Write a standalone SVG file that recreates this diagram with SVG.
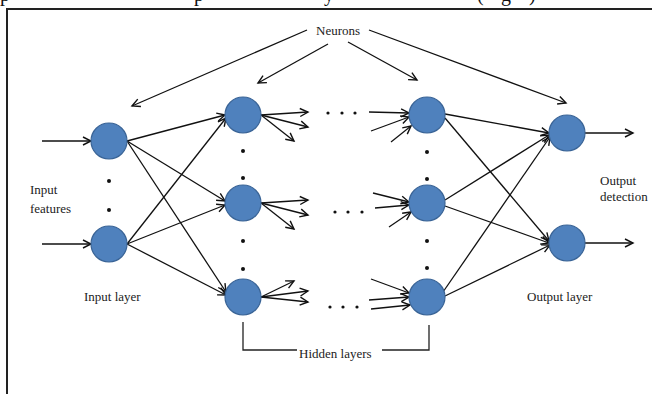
<svg xmlns="http://www.w3.org/2000/svg" width="652" height="394" viewBox="0 0 652 394">
  <defs>
    <marker id="arrow" markerUnits="userSpaceOnUse" markerWidth="12" markerHeight="12" refX="9" refY="5" orient="auto">
      <path d="M1,1 L9,5 L1,9" fill="none" stroke="#111" stroke-width="1.4" stroke-linejoin="miter"/>
    </marker>
    <style>
      .node { fill: #4F81BD; stroke: #3A6496; stroke-width: 1.2; }
      .edge { stroke: #111; stroke-width: 1.3; fill: none; marker-end: url(#arrow); }
      .dot { fill: #111; }
      .lbl { font-family: "Liberation Serif", "Times New Roman", serif; font-size: 13px; fill: #222; }
      .frame { stroke: #222; stroke-width: 2; fill: none; }
      .bracket { stroke: #222; stroke-width: 1.3; fill: none; }
      .head { font-family: "Liberation Serif", "Times New Roman", serif; font-size: 20px; fill: #111; }
    </style>
  </defs>

  <rect width="652" height="394" fill="#fff"/>

  <!-- descenders of the caption line above the frame -->
  <g id="caption">
    <text class="head" x="0" y="1">p</text>
    <text class="head" x="194" y="1">p</text>
    <text class="head" x="324" y="1">y</text>
    <text class="head" x="477" y="1">(</text>
    <text class="head" x="501" y="1">g</text>
    <text class="head" x="529" y="1">)</text>
  </g>

  <!-- figure frame -->
  <path class="frame" d="M7,394 V9 H652"/>

  <g id="connectors">
    <!-- input features -->
    <line class="edge" x1="42" y1="141" x2="91" y2="141"/>
    <line class="edge" x1="42" y1="244" x2="91" y2="244"/>
    <!-- input layer to first hidden layer -->
    <line class="edge" x1="127" y1="141" x2="225" y2="115"/>
    <line class="edge" x1="127" y1="141" x2="225" y2="201"/>
    <line class="edge" x1="127" y1="141" x2="226" y2="292"/>
    <line class="edge" x1="127" y1="244" x2="226" y2="118"/>
    <line class="edge" x1="127" y1="244" x2="225" y2="205"/>
    <line class="edge" x1="127" y1="244" x2="226" y2="295"/>
    <!-- first hidden layer fan-out -->
    <line class="edge" x1="261" y1="115" x2="308" y2="112"/>
    <line class="edge" x1="261" y1="115" x2="308" y2="127"/>
    <line class="edge" x1="261" y1="115" x2="294" y2="141"/>
    <line class="edge" x1="261" y1="203" x2="308" y2="200"/>
    <line class="edge" x1="261" y1="203" x2="308" y2="215"/>
    <line class="edge" x1="261" y1="203" x2="294" y2="229"/>
    <line class="edge" x1="261" y1="297" x2="294" y2="281"/>
    <line class="edge" x1="261" y1="297" x2="308" y2="291"/>
    <line class="edge" x1="261" y1="297" x2="308" y2="302"/>
    <!-- last hidden layer fan-in -->
    <line class="edge" x1="369" y1="112" x2="409" y2="113"/>
    <line class="edge" x1="371" y1="131" x2="409" y2="117"/>
    <line class="edge" x1="391" y1="142" x2="411" y2="126"/>
    <line class="edge" x1="373" y1="193" x2="409" y2="202"/>
    <line class="edge" x1="375" y1="208" x2="409" y2="205"/>
    <line class="edge" x1="389" y1="227" x2="411" y2="212"/>
    <line class="edge" x1="371" y1="279" x2="409" y2="293"/>
    <line class="edge" x1="369" y1="300" x2="409" y2="297"/>
    <line class="edge" x1="371" y1="309" x2="410" y2="305"/>
    <!-- last hidden layer to output layer -->
    <line class="edge" x1="445" y1="114" x2="549" y2="133"/>
    <line class="edge" x1="445" y1="118" x2="549" y2="241"/>
    <line class="edge" x1="445" y1="200" x2="549" y2="135"/>
    <line class="edge" x1="445" y1="206" x2="549" y2="243"/>
    <line class="edge" x1="443" y1="292" x2="550" y2="137"/>
    <line class="edge" x1="445" y1="296" x2="550" y2="245"/>
    <!-- output detection -->
    <line class="edge" x1="585" y1="133" x2="633" y2="133"/>
    <line class="edge" x1="585" y1="243" x2="633" y2="243"/>
    <!-- neuron callouts -->
    <line class="edge" x1="307" y1="30" x2="132" y2="106"/>
    <line class="edge" x1="328" y1="44" x2="258" y2="83"/>
    <line class="edge" x1="348" y1="42" x2="417" y2="80"/>
    <line class="edge" x1="369" y1="30" x2="566" y2="103"/>
    <!-- hidden layers bracket -->
    <path class="bracket" d="M243,322 V350 H297"/>
    <path class="bracket" d="M382,350 H429 V325"/>
  </g>

  <g id="input-layer">
    <circle id="in1" class="node" cx="109" cy="141" r="18"/>
    <circle id="in2" class="node" cx="109" cy="244" r="18"/>
    <circle class="dot" cx="109" cy="181" r="2"/>
    <circle class="dot" cx="109" cy="210" r="2"/>
  </g>

  <g id="hidden-layer-first">
    <circle id="h1a" class="node" cx="243" cy="115" r="18"/>
    <circle id="h1b" class="node" cx="243" cy="203" r="18"/>
    <circle id="h1c" class="node" cx="243" cy="297" r="18"/>
    <circle class="dot" cx="243" cy="151" r="2"/>
    <circle class="dot" cx="243" cy="178" r="2"/>
    <circle class="dot" cx="243" cy="241" r="2"/>
    <circle class="dot" cx="243" cy="269" r="2"/>
  </g>

  <g id="hidden-ellipses">
    <circle class="dot" cx="328" cy="113" r="1.6"/>
    <circle class="dot" cx="342" cy="113" r="1.6"/>
    <circle class="dot" cx="355" cy="113" r="1.6"/>
    <circle class="dot" cx="335" cy="212" r="1.6"/>
    <circle class="dot" cx="348" cy="212" r="1.6"/>
    <circle class="dot" cx="362" cy="212" r="1.6"/>
    <circle class="dot" cx="330" cy="307" r="1.6"/>
    <circle class="dot" cx="343" cy="307" r="1.6"/>
    <circle class="dot" cx="357" cy="307" r="1.6"/>
  </g>

  <g id="hidden-layer-last">
    <circle id="h2a" class="node" cx="427" cy="115" r="18"/>
    <circle id="h2b" class="node" cx="427" cy="203" r="18"/>
    <circle id="h2c" class="node" cx="427" cy="297" r="18"/>
    <circle class="dot" cx="427" cy="152" r="2"/>
    <circle class="dot" cx="427" cy="179" r="2"/>
    <circle class="dot" cx="427" cy="241" r="2"/>
    <circle class="dot" cx="427" cy="268" r="2"/>
  </g>

  <g id="output-layer">
    <circle id="out1" class="node" cx="567" cy="133" r="18"/>
    <circle id="out2" class="node" cx="567" cy="243" r="18"/>
  </g>

  <g id="labels">
    <text class="lbl" x="316" y="35">Neurons</text>
    <text class="lbl" x="30" y="194">Input</text>
    <text class="lbl" x="30" y="213">features</text>
    <text class="lbl" x="84" y="301">Input layer</text>
    <text class="lbl" x="527" y="301">Output layer</text>
    <text class="lbl" x="600" y="185">Output</text>
    <text class="lbl" x="600" y="201">detection</text>
    <text class="lbl" x="299" y="358">Hidden layers</text>
  </g>
</svg>
